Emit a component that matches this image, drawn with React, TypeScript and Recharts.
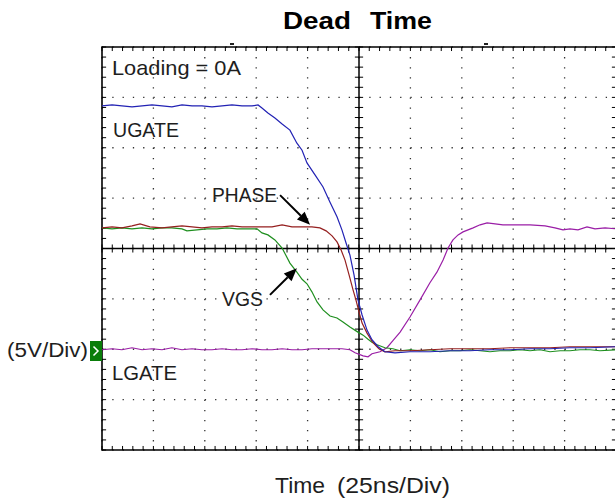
import React from 'react';
import { LineChart, Line, XAxis, YAxis, CartesianGrid, ReferenceLine, ReferenceArea } from 'recharts';

// time in ns (25 ns/div, 10 div), amplitude in divisions (5 V/div, +/-4 div)
const UGATE: [number, number][] = [
  [0, 2.83], [4.9, 2.85], [9.7, 2.83], [14.6, 2.81], [19.5, 2.83], [24.3, 2.85], [29.2, 2.83], [34, 2.81], [38.9, 2.85], [43.8, 2.83],
  [48.6, 2.83], [53.5, 2.81], [58.4, 2.83], [63.2, 2.85], [68.1, 2.83], [73, 2.83], [75.9, 2.85], [77.8, 2.79], [80.7, 2.69], [84.1, 2.59],
  [87.6, 2.47], [91.4, 2.35], [94.8, 2.09], [97.3, 1.95], [99.7, 1.7], [103.6, 1.46], [107.5, 1.22], [110.9, 0.92], [114.3, 0.63], [116.7, 0.37],
  [118.7, 0.11], [120.6, -0.13], [122.6, -0.53], [124.5, -1.02], [126.5, -1.32], [128.9, -1.62], [131.3, -1.81], [134.3, -1.95], [137.6, -2.05], [142.5, -2.07],
  [149.8, -2.05], [159.5, -2.05], [169.3, -2.03], [179, -2.03], [188.7, -2.01], [198.5, -2.01], [208.2, -1.99], [217.9, -1.99], [227.6, -1.97], [237.4, -1.97],
  [250, -1.95],
];

const PHASE: [number, number][] = [
  [0, 0.41], [4.9, 0.43], [9.7, 0.41], [14.6, 0.45], [18.5, 0.49], [23.3, 0.43], [29.2, 0.41], [34, 0.43], [38.9, 0.45], [43.8, 0.43],
  [48.6, 0.41], [53.5, 0.43], [58.4, 0.43], [63.2, 0.45], [68.1, 0.43], [73, 0.43], [77.8, 0.43], [82.7, 0.43], [87.6, 0.47], [92.4, 0.43],
  [97.3, 0.43], [102.1, 0.43], [106, 0.41], [109, 0.35], [111.9, 0.25], [114.3, 0.13], [116.3, -0.03], [118.2, -0.23], [120.2, -0.53], [122.1, -0.82],
  [123.5, -1.02], [125, -1.26], [126.5, -1.48], [128.9, -1.68], [131.8, -1.87], [134.7, -1.99], [137.6, -2.05], [142.5, -2.03], [149.8, -2.03], [159.5, -2.01],
  [169.3, -1.99], [179, -1.99], [188.7, -1.99], [198.5, -1.97], [208.2, -1.97], [217.9, -1.97], [227.6, -1.95], [237.4, -1.95], [250, -1.95],
];

const VGS: [number, number][] = [
  [0, 0.41], [4.9, 0.39], [9.7, 0.41], [14.6, 0.39], [19.5, 0.41], [24.3, 0.39], [29.2, 0.41], [34, 0.41], [38.9, 0.39], [41.3, 0.35],
  [46.2, 0.37], [51.1, 0.39], [55.9, 0.39], [60.8, 0.41], [65.7, 0.39], [70.5, 0.39], [75.4, 0.39], [77.8, 0.31], [80.7, 0.27], [84.1, 0.17],
  [87.6, 0.01], [91.4, -0.29], [94.8, -0.47], [97.3, -0.61], [99.7, -0.7], [102.1, -0.86], [104.6, -1.06], [107.5, -1.22], [110.9, -1.34], [114.3, -1.38],
  [117.2, -1.46], [120.6, -1.56], [124.5, -1.66], [127, -1.72], [129.4, -1.8], [131.3, -1.86], [133.8, -1.91], [137.6, -1.97], [141.5, -1.99], [145, -2.03],
  [149.8, -2.01], [154.7, -2.03], [159.5, -2.01], [164.4, -2.05], [169.3, -2.03], [174.1, -2.03], [179, -2.01], [183.9, -2.03], [188.7, -2.05], [193.6, -2.03],
  [198.5, -2.03], [203.3, -2.01], [208.2, -2.03], [213, -2.01], [217.9, -2.05], [222.8, -2.03], [227.6, -2.03], [232.5, -2.01], [237.4, -2.01], [242.2, -2.03],
  [250, -2.01],
];

const LGATE: [number, number][] = [
  [0, -2.01], [4.9, -1.99], [9.7, -2.01], [14.6, -1.97], [19.5, -2.01], [24.3, -1.99], [29.2, -2.01], [34, -1.97], [38.9, -2.01], [43.8, -1.99],
  [48.6, -2.01], [53.5, -2.01], [58.4, -1.99], [63.2, -2.01], [68.1, -2.01], [73, -1.99], [77.8, -2.01], [82.7, -2.01], [87.6, -1.99], [92.4, -2.01],
  [97.3, -2.01], [102.1, -1.99], [107, -1.99], [111.9, -1.99], [116.7, -1.99], [120.6, -2.01], [123.1, -2.07], [127, -2.13], [129.4, -2.15], [131.3, -2.09],
  [135.2, -2.05], [138.6, -1.97], [141.5, -1.83], [145, -1.66], [149.8, -1.36], [154.7, -1.02], [159.5, -0.68], [162.9, -0.47], [165.9, -0.23], [168.3, 0.01],
  [170.7, 0.17], [173.2, 0.27], [175.6, 0.33], [180.5, 0.41], [183.9, 0.47], [187.3, 0.51], [191.2, 0.49], [195, 0.47], [200.9, 0.47], [208.2, 0.47],
  [215.5, 0.45], [220.3, 0.41], [224.2, 0.37], [227.6, 0.39], [231.5, 0.37], [235.9, 0.43], [239.8, 0.39], [244.7, 0.41], [250, 0.39],
];

const X_MAJOR = [0, 25, 50, 75, 100, 125, 150, 175, 200, 225, 250];
const Y_MAJOR = [-4, -3, -2, -1, 0, 1, 2, 3, 4];
const X_MINOR = [0, 5, 10, 15, 20, 25, 30, 35, 40, 45, 50, 55, 60, 65, 70, 75, 80, 85, 90, 95, 100, 105, 110, 115, 120, 125, 130, 135, 140, 145, 150, 155, 160, 165, 170, 175, 180, 185, 190, 195, 200, 205, 210, 215, 220, 225, 230, 235, 240, 245, 250];
const Y_MINOR = [-4, -3.8, -3.6, -3.4, -3.2, -3, -2.8, -2.6, -2.4, -2.2, -2, -1.8, -1.6, -1.4, -1.2, -1, -0.8, -0.6, -0.4, -0.2, 0, 0.2, 0.4, 0.6, 0.8, 1, 1.2, 1.4, 1.6, 1.8, 2, 2.2, 2.4, 2.6, 2.8, 3, 3.2, 3.4, 3.6, 3.8, 4];

// annotation arrows (data units): [fromT, fromV, toT, toV]
const ARROWS: [number, number, number, number][] = [
  [86.6, 1.06, 101.2, 0.47],
  [81.7, -0.92, 94.8, -0.39],
];

const toPts = (a: [number, number][]) => a.map(([t, v]) => ({ t, v }));

const TX = 2; // tick length in ns
const TY = 0.08; // tick length in div

const FONT = "'Liberation Sans', Arial, Helvetica, sans-serif";

const ArrowShape = (p: any) => {
  const { x1, y1, x2, y2 } = p;
  const dx = x2 - x1;
  const dy = y2 - y1;
  const len = Math.sqrt(dx * dx + dy * dy) || 1;
  const ux = dx / len;
  const uy = dy / len;
  const hl = 13;
  const hw = 5.5;
  const bx = x2 - ux * hl;
  const by = y2 - uy * hl;
  const nx = -uy;
  const ny = ux;
  return (
    <g>
      <line x1={x1} y1={y1} x2={bx} y2={by} stroke="#000" strokeWidth={2} />
      <polygon points={`${x2},${y2} ${bx + nx * hw},${by + ny * hw} ${bx - nx * hw},${by - ny * hw}`} fill="#000" />
    </g>
  );
};

export default function App() {
  const tickLines: React.ReactNode[] = [];
  X_MINOR.forEach((t, i) => {
    tickLines.push(<ReferenceLine key={`tt${i}`} segment={[{ x: t, y: 4 }, { x: t, y: 4 - TY }]} stroke="#000" strokeWidth={1} />);
    tickLines.push(<ReferenceLine key={`tb${i}`} segment={[{ x: t, y: -4 }, { x: t, y: -4 + TY }]} stroke="#000" strokeWidth={1} />);
    tickLines.push(<ReferenceLine key={`tc${i}`} segment={[{ x: t, y: -TY }, { x: t, y: TY }]} stroke="#000" strokeWidth={1} />);
  });
  Y_MINOR.forEach((v, i) => {
    tickLines.push(<ReferenceLine key={`tl${i}`} segment={[{ x: 0, y: v }, { x: TX, y: v }]} stroke="#000" strokeWidth={1} />);
    tickLines.push(<ReferenceLine key={`tr${i}`} segment={[{ x: 250, y: v }, { x: 250 - TX, y: v }]} stroke="#000" strokeWidth={1} />);
    tickLines.push(<ReferenceLine key={`tm${i}`} segment={[{ x: 125 - TX, y: v }, { x: 125 + TX, y: v }]} stroke="#000" strokeWidth={1} />);
  });

  return (
    <div style={{ position: 'absolute', left: 0, top: 0, width: 615, height: 502, overflow: 'hidden', background: '#fff' }}>
      <LineChart width={620} height={502} margin={{ top: 47, right: 4, bottom: 52, left: 102 }}>
        <XAxis type="number" dataKey="t" domain={[0, 250]} ticks={X_MAJOR} hide allowDataOverflow />
        <YAxis type="number" dataKey="v" domain={[-4, 4]} ticks={Y_MAJOR} hide allowDataOverflow />
        <CartesianGrid horizontal={false} vertical stroke="#333" strokeWidth={1.3} strokeDasharray="1.3 8.78" />
        <CartesianGrid horizontal vertical={false} stroke="#333" strokeWidth={1.3} strokeDasharray="1.3 8.98" />
        <ReferenceArea x1={0} x2={250} y1={-4} y2={4} fill="none" stroke="#000" strokeWidth={1.6} />
        <ReferenceLine x={125} stroke="#000" strokeWidth={1.5} />
        <ReferenceLine y={0} stroke="#000" strokeWidth={1.5} />
        {tickLines}
        <Line data={toPts(LGATE)} dataKey="v" type="linear" stroke="#9a1ea6" strokeWidth={1.2} dot={false} isAnimationActive={false} />
        <Line data={toPts(VGS)} dataKey="v" type="linear" stroke="#1f8f1f" strokeWidth={1.2} dot={false} isAnimationActive={false} />
        <Line data={toPts(PHASE)} dataKey="v" type="linear" stroke="#951f1f" strokeWidth={1.2} dot={false} isAnimationActive={false} />
        <Line data={toPts(UGATE)} dataKey="v" type="linear" stroke="#2222b4" strokeWidth={1.2} dot={false} isAnimationActive={false} />
        {ARROWS.map((a, i) => (
          <ReferenceLine key={`ar${i}`} segment={[{ x: a[0], y: a[1] }, { x: a[2], y: a[3] }]} shape={ArrowShape} />
        ))}
      </LineChart>
      <svg width={615} height={502} style={{ position: 'absolute', left: 0, top: 0, pointerEvents: 'none' }}>
        <g fontFamily={FONT} fill="#000" fontWeight="bold" fontSize={24}>
          <text x={283} y={29} textLength={68} lengthAdjust="spacingAndGlyphs">Dead</text>
          <text x={370} y={29} textLength={62} lengthAdjust="spacingAndGlyphs">Time</text>
        </g>
        <g fontFamily={FONT} fill="#1e1e1e">
          <text x={275} y={493} fontSize={22.5} textLength={50} lengthAdjust="spacingAndGlyphs">Time</text>
          <text x={337} y={493} fontSize={22.5} textLength={113} lengthAdjust="spacingAndGlyphs">(25ns/Div)</text>
          <text x={7} y={357} fontSize={20.5} textLength={81} lengthAdjust="spacingAndGlyphs">(5V/Div)</text>
          <text x={112} y={75} fontSize={21} textLength={129} lengthAdjust="spacingAndGlyphs">Loading = 0A</text>
          <text x={113} y={137} fontSize={21} textLength={66} lengthAdjust="spacingAndGlyphs">UGATE</text>
          <text x={212} y={202} fontSize={21} textLength={65} lengthAdjust="spacingAndGlyphs">PHASE</text>
          <text x={222} y={306} fontSize={21} textLength={41} lengthAdjust="spacingAndGlyphs">VGS</text>
          <text x={112} y={380} fontSize={21} textLength={65} lengthAdjust="spacingAndGlyphs">LGATE</text>
        </g>
        <rect x={90} y={341} width={12} height={20} fill="#0a7d0a" />
        <polyline points="93.5,346.5 98,351 93.5,355.5" fill="none" stroke="#fff" strokeWidth={1.5} />
        <rect x={230} y={43} width={4} height={2} fill="#222" />
        <rect x={484} y={43} width={4} height={2} fill="#222" />
      </svg>
    </div>
  );
}
